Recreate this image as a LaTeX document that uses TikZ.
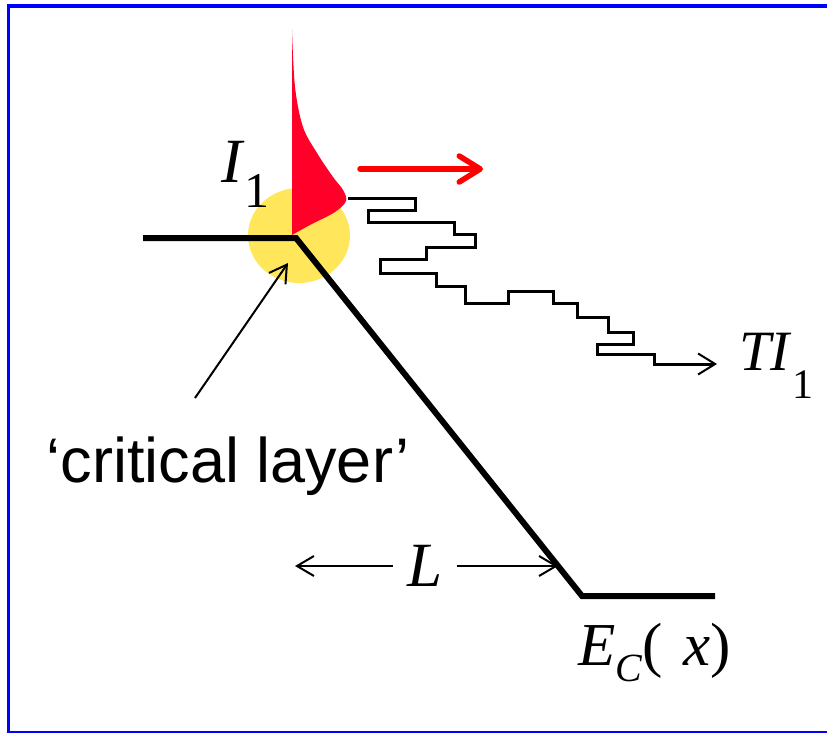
\documentclass[tikz,border=0pt]{standalone}
\usepackage{fontspec}
\setmainfont{Liberation Serif}
\newfontfamily\arialfont{Liberation Sans}
\usetikzlibrary{arrows.meta}

\definecolor{frameblue}{RGB}{0,0,255}
\definecolor{spotyellow}{RGB}{255,230,90}
\definecolor{wavered}{RGB}{255,0,40}

\begin{document}
\begin{tikzpicture}[x=1pt, y=-1pt,
    frame/.style={frameblue, line width=3.8pt},
    band/.style={line width=6pt, line join=miter},
    stair/.style={line width=3pt, -{Straight Barb[length=17pt, width=21pt, line width=2pt]}},
    ptr/.style={line width=2pt, -{Straight Barb[length=17pt, width=20pt]}},
    flow/.style={red, line width=5.5pt, line cap=round,
                 -{Straight Barb[length=21pt, width=26pt, round]}},
    lbl/.style={inner sep=0pt, font=\fontsize{63}{63}\selectfont},
    cl/.style={inner sep=0pt, font=\arialfont\fontsize{63}{63}\selectfont},
  ]
  \useasboundingbox (0,0) rectangle (827,733);
  \draw[frame] (827,6) -- (8.5,6) -- (8.5,733) -- (827,733);
  \fill[spotyellow] (299,235.5) ellipse [x radius=51pt, y radius=47.5pt];
  \fill[wavered] plot[smooth, tension=0.55] coordinates {(292,30) (295,87) (303,127)
    (317,153) (333,177) (343,190) (346,201) (335,212) (310,225) (292,235)} -- cycle;
  \draw[band] (143,238) -- (296,238) -- (582,596) -- (715,596);
  \node[lbl, anchor=base west] (i1) at (221,182)
    {\textit{I}\raisebox{-25pt}{\fontsize{50}{50}\selectfont 1}};
  \node[lbl, anchor=base west, font=\fontsize{57}{57}\selectfont] (ti1) at (739,370)
    {\textit{TI}\raisebox{-28pt}{\fontsize{42}{42}\selectfont 1}};
  \node[lbl, anchor=base west, font=\fontsize{61}{61}\selectfont] (ec) at (578,665)
    {\textit{E}\raisebox{-16pt}{\fontsize{40}{40}\selectfont\textit{C}}(\hspace{21pt}\textit{x})};
  \node[lbl, font=\fontsize{63}{63}\selectfont\itshape, inner xsep=14pt] (len) at (425,566) {L};
  \node[cl, anchor=base] (crit) at (228,482) {‘critical layer’};
  \coordinate (lenL) at (295,566);
  \coordinate (lenR) at (558,566);
  \coordinate (critTail) at (195,398);
  \coordinate (critTip) at (288,263);
  \coordinate (flowA) at (360,169);
  \coordinate (flowB) at (483,169);
  \coordinate (stairIn) at (348,198);
  \coordinate (stairOut) at (717,364);
  \draw[ptr] (len) -- (lenL);
  \draw[ptr] (len) -- (lenR);
  \draw[ptr] (critTail) -- (critTip);
  \draw[flow] (flowA) -- (flowB);
  \draw[stair] (stairIn) -- (415,198) -- (415,210) -- (368,210) -- (368,222)
    -- (454,222) -- (454,234) -- (475,234) -- (475,247) -- (426,247) -- (426,259)
    -- (380,259) -- (380,273) -- (436,273) -- (436,286) -- (465,286) -- (465,303)
    -- (508,303) -- (508,291) -- (553,291) -- (553,303) -- (577,303) -- (577,317)
    -- (608,317) -- (608,332) -- (633,332) -- (633,344) -- (597,344) -- (597,354)
    -- (654,354) -- (654,364) -- (stairOut);
\end{tikzpicture}
\end{document}
